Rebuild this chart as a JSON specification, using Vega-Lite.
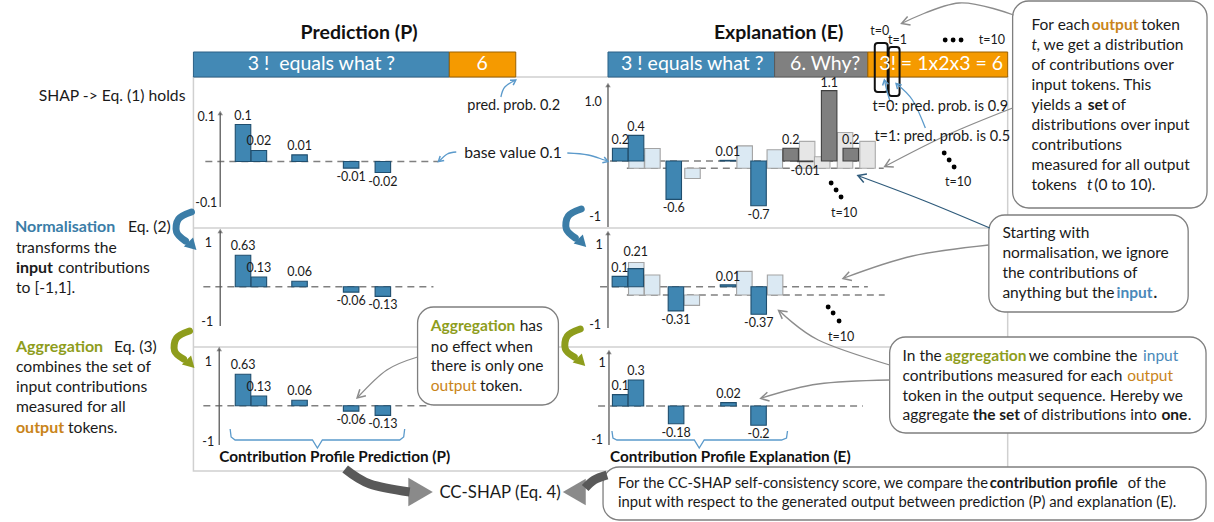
{
"$schema": "https://vega.github.io/schema/vega-lite/v6.json",
"width": 1214, "height": 522, "padding": 0, "autosize": {"type": "none"},
"background": "white",
"config": {"view": {"stroke": null}, "font": "Lato", "locale": {"number": {"decimal": ".", "thousands": ",", "grouping": [3], "currency": ["$", ""], "minus": "-"}}},
"datasets": {
"frame": [{"x":190,"x2":1011,"y":77,"y2":471}],
"seps": [{"x":190,"x2":1011,"y":228},{"x":190,"x2":1011,"y":347}],
"tokens": [
{"x":190,"x2":448,"y":52,"y2":77,"k":"tin"},
{"x":448,"x2":515,"y":52,"y2":77,"k":"tout"},
{"x":608,"x2":776,"y":52,"y2":77,"k":"tin"},
{"x":776,"x2":870,"y":52,"y2":77,"k":"tprm"},
{"x":870,"x2":1011,"y":52,"y2":77,"k":"tout"}],
"dash": [
{"x":202,"x2":437,"y":161.5},{"x":200,"x2":432,"y":286.7},{"x":200,"x2":430,"y":405.7},
{"x":610,"x2":865,"y":161},{"x":627,"x2":886,"y":168.3},
{"x":600,"x2":870,"y":286.7},{"x":627,"x2":887,"y":295},{"x":598,"x2":865,"y":406}],
"axes": [
{"x":217,"y":113,"y2":207},{"x":217,"y":231,"y2":326},{"x":216,"y":349,"y2":445},
{"x":608,"y":85,"y2":227},{"x":608,"y":233,"y2":328},{"x":609,"y":352,"y2":445}],
"braces": [
{"id":"bP","o":0,"x":227,"y":429},{"id":"bP","o":1,"x":228,"y":437},{"id":"bP","o":2,"x":232,"y":440},{"id":"bP","o":3,"x":310,"y":440},{"id":"bP","o":4,"x":315,"y":448},{"id":"bP","o":5,"x":320,"y":440},{"id":"bP","o":6,"x":398,"y":440},{"id":"bP","o":7,"x":402,"y":437},{"id":"bP","o":8,"x":403,"y":429},
{"id":"bE","o":0,"x":612,"y":431},{"id":"bE","o":1,"x":613,"y":438},{"id":"bE","o":2,"x":617,"y":440},{"id":"bE","o":3,"x":695,"y":440},{"id":"bE","o":4,"x":700,"y":448},{"id":"bE","o":5,"x":705,"y":440},{"id":"bE","o":6,"x":783,"y":440},{"id":"bE","o":7,"x":788,"y":438},{"id":"bE","o":8,"x":789,"y":431}],
"bars": [
{"p":"P1","x":240,"v":0.1,"k":"in0"},{"p":"P1","x":256,"v":0.02,"k":"in0"},{"p":"P1","x":297,"v":0.01,"k":"in0"},{"p":"P1","x":349,"v":-0.01,"k":"in0"},{"p":"P1","x":381,"v":-0.02,"k":"in0"},
{"p":"P2","x":240,"v":0.63,"k":"in0"},{"p":"P2","x":256,"v":0.13,"k":"in0"},{"p":"P2","x":297,"v":0.06,"k":"in0"},{"p":"P2","x":349,"v":-0.06,"k":"in0"},{"p":"P2","x":381,"v":-0.13,"k":"in0"},
{"p":"P3","x":240,"v":0.63,"k":"in0"},{"p":"P3","x":256,"v":0.13,"k":"in0"},{"p":"P3","x":297,"v":0.06,"k":"in0"},{"p":"P3","x":349,"v":-0.06,"k":"in0"},{"p":"P3","x":381,"v":-0.13,"k":"in0"},
{"p":"E1a","x":620.3,"v":0.2,"k":"in0"},{"p":"E1a","x":636.3,"v":0.4,"k":"in0"},{"p":"E1a","x":674.3,"v":-0.6,"k":"in0"},{"p":"E1a","x":728.8,"v":0.01,"k":"in0"},{"p":"E1a","x":759.8,"v":-0.7,"k":"in0"},{"p":"E1a","x":792.2,"v":0.2,"k":"ex0"},{"p":"E1a","x":806.8,"v":-0.01,"k":"ex0"},{"p":"E1a","x":831,"v":1.1,"k":"ex0"},{"p":"E1a","x":852.8,"v":0.2,"k":"ex0"},
{"p":"E1b","x":636.8,"v":0.2,"k":"in1"},{"p":"E1b","x":652.8,"v":0.31,"k":"in1"},{"p":"E1b","x":693.2,"v":-0.16,"k":"in1"},{"p":"E1b","x":745.8,"v":0.35,"k":"in1"},{"p":"E1b","x":776.2,"v":0.29,"k":"in1"},{"p":"E1b","x":808.8,"v":0.42,"k":"ex1"},{"p":"E1b","x":824,"v":0.18,"k":"ex1"},{"p":"E1b","x":847,"v":0.56,"k":"ex1"},{"p":"E1b","x":869.7,"v":0.42,"k":"ex1"},
{"p":"E2a","x":620,"v":0.1,"k":"in0"},{"p":"E2a","x":636,"v":0.21,"k":"in0"},{"p":"E2a","x":676.5,"v":-0.31,"k":"in0"},{"p":"E2a","x":729,"v":0.01,"k":"in0"},{"p":"E2a","x":760,"v":-0.37,"k":"in0"},
{"p":"E2b","x":636.5,"v":0.46,"k":"in1"},{"p":"E2b","x":652.5,"v":0.24,"k":"in1"},{"p":"E2b","x":692.5,"v":-0.1,"k":"in1"},{"p":"E2b","x":745.5,"v":0.3,"k":"in1"},{"p":"E2b","x":776.5,"v":0.24,"k":"in1"},
{"p":"E3","x":620.3,"v":0.1,"k":"in0"},{"p":"E3","x":636.2,"v":0.3,"k":"in0"},{"p":"E3","x":676.7,"v":-0.18,"k":"in0"},{"p":"E3","x":729.5,"v":0.02,"k":"in0"},{"p":"E3","x":759.8,"v":-0.2,"k":"in0"}],
"tboxes": [{"x":877,"x2":890,"y":43,"y2":92},{"x":891,"x2":902,"y":47,"y2":96}],
"callouts": [
{"x":1016,"x2":1212,"y":1,"y2":208},{"x":992,"x2":1193,"y":215,"y2":312},{"x":892,"x2":1211,"y":337,"y2":433},{"x":416,"x2":558,"y":307,"y2":405},{"x":603,"x2":1211,"y":467,"y2":520}],
"curves": [
{"id":"a1","o":0,"x":500,"y":97,"c":"sky"},{"id":"a1","o":1,"x":504,"y":87,"c":"sky"},{"id":"a1","o":2,"x":515,"y":80,"c":"sky"},
{"id":"a2","o":0,"x":455,"y":152,"c":"sky"},{"id":"a2","o":1,"x":446,"y":154,"c":"sky"},{"id":"a2","o":2,"x":438,"y":161,"c":"sky"},
{"id":"a3","o":0,"x":567,"y":153,"c":"sky"},{"id":"a3","o":1,"x":588,"y":155,"c":"sky"},{"id":"a3","o":2,"x":607,"y":161,"c":"sky"},
{"id":"a4","o":0,"x":892,"y":100,"c":"sky"},{"id":"a4","o":1,"x":889,"y":90,"c":"sky"},{"id":"a4","o":2,"x":887,"y":81,"c":"sky"},
{"id":"a5","o":0,"x":928,"y":128,"c":"sky"},{"id":"a5","o":1,"x":915,"y":100,"c":"sky"},{"id":"a5","o":2,"x":899,"y":84,"c":"sky"},
{"id":"a6","o":0,"x":1017,"y":15,"c":"gray"},{"id":"a6","o":1,"x":962,"y":3,"c":"gray"},{"id":"a6","o":2,"x":905,"y":23,"c":"gray"},
{"id":"a7","o":0,"x":1016,"y":108,"c":"gray"},{"id":"a7","o":1,"x":950,"y":135,"c":"gray"},{"id":"a7","o":2,"x":888,"y":166,"c":"gray"},
{"id":"a8","o":0,"x":993,"y":228,"c":"navy"},{"id":"a8","o":1,"x":925,"y":200,"c":"navy"},{"id":"a8","o":2,"x":861,"y":176,"c":"navy"},
{"id":"a9","o":0,"x":992,"y":245,"c":"gray"},{"id":"a9","o":1,"x":915,"y":256,"c":"gray"},{"id":"a9","o":2,"x":846,"y":278,"c":"gray"},
{"id":"a10","o":0,"x":892,"y":365,"c":"gray"},{"id":"a10","o":1,"x":820,"y":340,"c":"gray"},{"id":"a10","o":2,"x":781,"y":311,"c":"gray"},
{"id":"a11","o":0,"x":892,"y":380,"c":"gray"},{"id":"a11","o":1,"x":820,"y":384,"c":"gray"},{"id":"a11","o":2,"x":763,"y":398,"c":"gray"},
{"id":"a12","o":0,"x":416,"y":357,"c":"gray"},{"id":"a12","o":1,"x":385,"y":370,"c":"gray"},{"id":"a12","o":2,"x":356,"y":397,"c":"gray"}],
"heads": [
{"id":"a1","o":0,"x":512.4,"y":85.2,"c":"sky"},{"id":"a1","o":1,"x":515,"y":80,"c":"sky"},{"id":"a1","o":2,"x":509.2,"y":80.2,"c":"sky"},
{"id":"a2","o":0,"x":442.8,"y":160.5,"c":"sky"},{"id":"a2","o":1,"x":437,"y":161.5,"c":"sky"},{"id":"a2","o":2,"x":438.8,"y":155.9,"c":"sky"},
{"id":"a3","o":0,"x":602.3,"y":162.7,"c":"sky"},{"id":"a3","o":1,"x":608,"y":161.5,"c":"sky"},{"id":"a3","o":2,"x":604.2,"y":157.1,"c":"sky"},
{"id":"a4","o":0,"x":890.7,"y":84.2,"c":"sky"},{"id":"a4","o":1,"x":886.7,"y":80,"c":"sky"},{"id":"a4","o":2,"x":884.9,"y":85.5,"c":"sky"},
{"id":"a5","o":0,"x":904.1,"y":84.9,"c":"sky"},{"id":"a5","o":1,"x":898.5,"y":83.5,"c":"sky"},{"id":"a5","o":2,"x":899.9,"y":89.1,"c":"sky"},
{"id":"a6","o":0,"x":913.1,"y":25.1,"c":"gray"},{"id":"a6","o":1,"x":904,"y":23.5,"c":"gray"},{"id":"a6","o":2,"x":910.1,"y":16.6,"c":"gray"},
{"id":"a7","o":0,"x":896.2,"y":166.9,"c":"gray"},{"id":"a7","o":1,"x":887,"y":166.5,"c":"gray"},{"id":"a7","o":2,"x":892.2,"y":158.9,"c":"gray"},
{"id":"a8","o":0,"x":865.9,"y":182.5,"c":"navy"},{"id":"a8","o":1,"x":860,"y":175.5,"c":"navy"},{"id":"a8","o":2,"x":869.1,"y":174.1,"c":"navy"},
{"id":"a9","o":0,"x":854,"y":280.4,"c":"gray"},{"id":"a9","o":1,"x":845,"y":278.5,"c":"gray"},{"id":"a9","o":2,"x":851.2,"y":271.8,"c":"gray"},
{"id":"a10","o":0,"x":783.7,"y":318.9,"c":"gray"},{"id":"a10","o":1,"x":780,"y":310.5,"c":"gray"},{"id":"a10","o":2,"x":789.1,"y":311.7,"c":"gray"},
{"id":"a11","o":0,"x":770.9,"y":401,"c":"gray"},{"id":"a11","o":1,"x":762,"y":398.5,"c":"gray"},{"id":"a11","o":2,"x":768.7,"y":392.2,"c":"gray"},
{"id":"a12","o":0,"x":363.9,"y":395.8,"c":"gray"},{"id":"a12","o":1,"x":355,"y":398,"c":"gray"},{"id":"a12","o":2,"x":357.8,"y":389.2,"c":"gray"}],
"thick": [
{"id":"g1","o":0,"x":343,"y":469},{"id":"g1","o":1,"x":368,"y":484},{"id":"g1","o":2,"x":408,"y":492},
{"id":"g2","o":0,"x":607,"y":475},{"id":"g2","o":1,"x":594,"y":480},{"id":"g2","o":2,"x":585,"y":488}],
"bigR": [{"x":419,"y":492}],
"bigL": [{"x":574,"y":492}],
"cres": [
{"id":"c1","o":0,"x":188,"y":212,"c":"norm"},{"id":"c1","o":1,"x":175,"y":219,"c":"norm"},{"id":"c1","o":2,"x":173,"y":232,"c":"norm"},{"id":"c1","o":3,"x":182,"y":241,"c":"norm"},
{"id":"c2","o":0,"x":581,"y":209,"c":"norm"},{"id":"c2","o":1,"x":568,"y":216,"c":"norm"},{"id":"c2","o":2,"x":566,"y":229,"c":"norm"},{"id":"c2","o":3,"x":575,"y":238,"c":"norm"},
{"id":"c3","o":0,"x":186,"y":331,"c":"agg"},{"id":"c3","o":1,"x":173,"y":338,"c":"agg"},{"id":"c3","o":2,"x":171,"y":351,"c":"agg"},{"id":"c3","o":3,"x":180,"y":359,"c":"agg"},
{"id":"c4","o":0,"x":580,"y":329,"c":"agg"},{"id":"c4","o":1,"x":567,"y":336,"c":"agg"},{"id":"c4","o":2,"x":565,"y":349,"c":"agg"},{"id":"c4","o":3,"x":574,"y":357,"c":"agg"}],
"cresHeads": [{"x":189,"y":246,"c":"norm"},{"x":582,"y":243,"c":"norm"},{"x":187,"y":364,"c":"agg"},{"x":581,"y":362,"c":"agg"}],
"dots": [{"x":948,"y":40},{"x":956,"y":40},{"x":964,"y":40},{"x":947,"y":153},{"x":952,"y":160},{"x":957,"y":167},{"x":833,"y":183},{"x":838,"y":190},{"x":843,"y":197},{"x":830,"y":307},{"x":835,"y":313},{"x":841,"y":321}],
"tTitle": [{"x":357,"y":33,"t":"Prediction (P)"},{"x":780,"y":33,"t":"Explanation (E)"}],
"tTok": [{"x":319,"y":64,"t":"3 !\u00a0 equals what ?"},{"x":481,"y":64,"t":"6"},{"x":693,"y":64,"t":"3 ! equals what ?"},{"x":827,"y":64,"t":"6. Why?"},{"x":944,"y":64,"t":"3! = 1x2x3 = 6"}],
"tSmall": [{"x":513,"y":106,"t":"pred. prob. 0.2"},{"x":943,"y":107,"t":"t=0: pred. prob. is 0.9"},{"x":945,"y":137,"t":"t=1: pred. prob. is 0.5"}],
"tTick": [
{"x":882,"y":31,"t":"t=0"},{"x":900,"y":40,"t":"t=1"},{"x":995,"y":40,"t":"t=10"},{"x":961,"y":182,"t":"t=10"},{"x":846,"y":213,"t":"t=10"},{"x":843,"y":337,"t":"t=10"},
{"x":203,"y":117,"t":"0.1"},{"x":203,"y":203,"t":"-0.1"},{"x":205,"y":243,"t":"1"},{"x":204,"y":322,"t":"-1"},{"x":205,"y":362,"t":"1"},{"x":205,"y":442,"t":"-1"},
{"x":593,"y":102,"t":"1.0"},{"x":595,"y":217,"t":"-1"},{"x":599,"y":245,"t":"1"},{"x":595,"y":325,"t":"-1"},{"x":602,"y":363,"t":"1"},{"x":597,"y":440,"t":"-1"}],
"tBody": [
{"x":34,"y":96,"t":"SHAP -> Eq. (1) holds","c":"ink"},{"x":463,"y":153,"t":"base value 0.1","c":"ink"},
{"x":124,"y":227.3,"t":"Eq. (2)","c":"ink"},{"x":11,"y":248.3,"t":"transforms the","c":"ink"},{"x":53.5,"y":268.3,"t":"contributions","c":"ink"},{"x":11,"y":288.3,"t":"to [-1,1].","c":"ink"},
{"x":110,"y":347.3,"t":"Eq. (3)","c":"ink"},{"x":11,"y":367.3,"t":"combines the set of","c":"ink"},{"x":11,"y":387.3,"t":"input contributions","c":"ink"},{"x":11,"y":406.7,"t":"measured for all","c":"ink"},{"x":63.5,"y":428.3,"t":"tokens.","c":"ink"}],
"tBodyB": [{"x":10,"y":227.3,"t":"Normalisation","c":"norm"},{"x":11,"y":268.3,"t":"input","c":"ink"},{"x":11,"y":347.3,"t":"Aggregation","c":"agg"},{"x":11,"y":428.3,"t":"output","c":"output"}],
"tBox": [
{"x":1035,"y":25,"t":"For each","c":"ink"},{"x":1145.7,"y":25,"t":"token","c":"ink"},{"x":1040,"y":45,"t":", we get a distribution","c":"ink"},{"x":1035,"y":64.5,"t":"of contributions over","c":"ink"},{"x":1035,"y":84.5,"t":"input tokens. This","c":"ink"},{"x":1035,"y":104.5,"t":"yields a","c":"ink"},{"x":1116,"y":104.5,"t":"of","c":"ink"},{"x":1035,"y":124.5,"t":"distributions over input","c":"ink"},{"x":1035,"y":144.5,"t":"contributions","c":"ink"},{"x":1035,"y":164.5,"t":"measured for all output","c":"ink"},{"x":1035,"y":184.5,"t":"tokens","c":"ink"},{"x":1098.3,"y":184.5,"t":"(0 to 10).","c":"ink"},
{"x":1005.7,"y":233.3,"t":"Starting with","c":"ink"},{"x":1005.7,"y":253.3,"t":"normalisation, we ignore","c":"ink"},{"x":1005.7,"y":272.7,"t":"the contributions of","c":"ink"},{"x":1005.7,"y":292.7,"t":"anything but the","c":"ink"},
{"x":905,"y":356,"t":"In the","c":"ink"},{"x":1032.3,"y":356,"t":"we combine the","c":"ink"},{"x":1147.5,"y":356,"t":"input","c":"input"},{"x":905,"y":375.7,"t":"contributions measured for each","c":"ink"},{"x":1131.5,"y":375.7,"t":"output","c":"output"},{"x":905,"y":395.7,"t":"token in the output sequence. Hereby we","c":"ink"},{"x":905,"y":415,"t":"aggregate","c":"ink"},{"x":1027,"y":415,"t":"of distributions into","c":"ink"},{"x":1192.5,"y":415,"t":".","c":"ink"},
{"x":519,"y":326,"t":"has","c":"ink"},{"x":429.3,"y":346.7,"t":"no effect when","c":"ink"},{"x":429.3,"y":366,"t":"there is only one","c":"ink"},{"x":429.3,"y":385.7,"t":"output","c":"output"},{"x":479,"y":385.7,"t":"token.","c":"ink"}],
"tBoxB": [
{"x":1095.7,"y":25,"t":"output","c":"output"},{"x":1091.7,"y":104.5,"t":"set","c":"ink"},
{"x":1120.7,"y":292.7,"t":"input","c":"input"},{"x":1158,"y":292.7,"t":".","c":"ink"},
{"x":947.7,"y":356,"t":"aggregation","c":"agg"},{"x":975.7,"y":415,"t":"the set","c":"ink"},{"x":1166,"y":415,"t":"one","c":"ink"},
{"x":429.3,"y":326,"t":"Aggregation","c":"agg"}],
"tBoxI": [{"x":1035,"y":45,"t":"t"},{"x":1091,"y":184.5,"t":"t"}],
"tBoxE": [{"x":618,"y":484,"t":"For the CC-SHAP self-consistency score, we compare the"},{"x":1132,"y":484,"t":"of the"},{"x":618,"y":503.3,"t":"input with respect to the generated output between prediction (P) and explanation (E)."}],
"tBoxEB": [{"x":993,"y":484,"t":"contribution profile"}],
"tCap": [{"x":216,"y":457,"t":"Contribution Profile Prediction (P)"},{"x":610,"y":457,"t":"Contribution Profile Explanation (E)"}],
"tCC": [{"x":438,"y":493,"t":"CC-SHAP (Eq. 4)"}]
},
"resolve": {"scale": {"y": "independent"}},
"layer": [
{"layer": [
 {"data":{"name":"frame"},"mark":{"type":"rect","filled":false,"stroke":"#d0d0d0","strokeWidth":1.5},
  "encoding":{"x":{"field":"x","type":"quantitative","scale":{"domain":[0,1214],"nice":false,"zero":false},"axis":null},"x2":{"field":"x2"},"y":{"field":"y","type":"quantitative","scale":{"domain":[0,522],"nice":false,"zero":false,"reverse":true},"axis":null},"y2":{"field":"y2"}}},
 {"data":{"name":"seps"},"mark":{"type":"rule","stroke":"#d0d0d0","strokeWidth":1.5},
  "encoding":{"x":{"field":"x","type":"quantitative","scale":{"domain":[0,1214],"nice":false,"zero":false},"axis":null},"x2":{"field":"x2"},"y":{"field":"y","type":"quantitative","scale":{"domain":[0,522],"nice":false,"zero":false,"reverse":true},"axis":null}}},
 {"data":{"name":"tokens"},"mark":{"type":"rect","strokeWidth":1},
  "encoding":{"x":{"field":"x","type":"quantitative","scale":{"domain":[0,1214],"nice":false,"zero":false},"axis":null},"x2":{"field":"x2"},"y":{"field":"y","type":"quantitative","scale":{"domain":[0,522],"nice":false,"zero":false,"reverse":true},"axis":null},"y2":{"field":"y2"},
   "fill":{"field":"k","type":"nominal","legend":null,"scale":{"domain":["in0","in1","ex0","ex1","tin","tout","tprm"],"range":["#3f86b2","#dbe9f3","#7f7f7f","#e6e6e6","#4389b5","#f59a00","#808080"]}},
   "stroke":{"field":"k","type":"nominal","legend":null,"scale":{"domain":["in0","in1","ex0","ex1","tin","tout","tprm"],"range":["#1f4e6e","#a3a3a3","#404040","#ababab","#2c6186","#9a6000","#595959"]}}}},
 {"data":{"name":"dash"},"mark":{"type":"rule","stroke":"#808080","strokeWidth":1.6,"strokeDash":[7,5]},
  "encoding":{"x":{"field":"x","type":"quantitative","scale":{"domain":[0,1214],"nice":false,"zero":false},"axis":null},"x2":{"field":"x2"},"y":{"field":"y","type":"quantitative","scale":{"domain":[0,522],"nice":false,"zero":false,"reverse":true},"axis":null}}},
 {"data":{"name":"axes"},"mark":{"type":"rule","stroke":"#595959","strokeWidth":1.3},
  "encoding":{"x":{"field":"x","type":"quantitative","scale":{"domain":[0,1214],"nice":false,"zero":false},"axis":null},"y":{"field":"y","type":"quantitative","scale":{"domain":[0,522],"nice":false,"zero":false,"reverse":true},"axis":null},"y2":{"field":"y2"}}},
 {"data":{"name":"axes"},"mark":{"type":"point","shape":"triangle-up","size":30,"filled":true,"color":"#595959","strokeWidth":0},
  "encoding":{"x":{"field":"x","type":"quantitative","scale":{"domain":[0,1214],"nice":false,"zero":false},"axis":null},"y":{"field":"y","type":"quantitative","scale":{"domain":[0,522],"nice":false,"zero":false,"reverse":true},"axis":null}}},
 {"data":{"name":"braces"},"mark":{"type":"line","stroke":"#5b9acb","strokeWidth":1.3},
  "encoding":{"x":{"field":"x","type":"quantitative","scale":{"domain":[0,1214],"nice":false,"zero":false},"axis":null},"y":{"field":"y","type":"quantitative","scale":{"domain":[0,522],"nice":false,"zero":false,"reverse":true},"axis":null},"detail":{"field":"id"},"order":{"field":"o"}}}
]},
{"data":{"name":"bars"},"transform":[{"filter":"datum.p == 'E1b'"}],
 "encoding":{"x":{"field":"x","type":"quantitative","scale":{"domain":[0,1214],"nice":false,"zero":false},"axis":null},"y":{"field":"v","type":"quantitative","axis":null,"scale":{"type":"linear","domain":[-1,1],"range":[232.3,104.3],"nice":false,"zero":false}}},
 "layer":[{"mark":{"type":"bar","width":15.5,"strokeWidth":1.1},"encoding":{"y2":{"datum":0},
   "fill":{"field":"k","type":"nominal","legend":null,"scale":{"domain":["in0","in1","ex0","ex1","tin","tout","tprm"],"range":["#3f86b2","#dbe9f3","#7f7f7f","#e6e6e6","#4389b5","#f59a00","#808080"]}},
   "stroke":{"field":"k","type":"nominal","legend":null,"scale":{"domain":["in0","in1","ex0","ex1","tin","tout","tprm"],"range":["#1f4e6e","#a3a3a3","#404040","#ababab","#2c6186","#9a6000","#595959"]}}}}]},
{"data":{"name":"bars"},"transform":[{"filter":"datum.p == 'E1a'"}],
 "encoding":{"x":{"field":"x","type":"quantitative","scale":{"domain":[0,1214],"nice":false,"zero":false},"axis":null},"y":{"field":"v","type":"quantitative","axis":null,"scale":{"type":"linear","domain":[-1,1],"range":[225,97],"nice":false,"zero":false}}},
 "layer":[{"mark":{"type":"bar","width":15.5,"strokeWidth":1.1},"encoding":{"y2":{"datum":0},
   "fill":{"field":"k","type":"nominal","legend":null,"scale":{"domain":["in0","in1","ex0","ex1","tin","tout","tprm"],"range":["#3f86b2","#dbe9f3","#7f7f7f","#e6e6e6","#4389b5","#f59a00","#808080"]}},
   "stroke":{"field":"k","type":"nominal","legend":null,"scale":{"domain":["in0","in1","ex0","ex1","tin","tout","tprm"],"range":["#1f4e6e","#a3a3a3","#404040","#ababab","#2c6186","#9a6000","#595959"]}}}},
  {"transform":[{"filter":"datum.v > 0"}],"mark":{"type":"text","baseline":"bottom","dy":-1,"fontSize":12.5,"color":"#1a1a1a"},"encoding":{"text":{"field":"v","type":"quantitative","format":".2~f"}}},
  {"transform":[{"filter":"datum.v < 0"}],"mark":{"type":"text","baseline":"top","dy":3,"fontSize":12.5,"color":"#1a1a1a"},"encoding":{"text":{"field":"v","type":"quantitative","format":".2~f"}}}]},
{"data":{"name":"bars"},"transform":[{"filter":"datum.p == 'E2b'"}],
 "encoding":{"x":{"field":"x","type":"quantitative","scale":{"domain":[0,1214],"nice":false,"zero":false},"axis":null},"y":{"field":"v","type":"quantitative","axis":null,"scale":{"type":"pow","exponent":0.75,"domain":[-1,1],"range":[353.2,236.8],"nice":false,"zero":false}}},
 "layer":[{"mark":{"type":"bar","width":15.5,"strokeWidth":1.1},"encoding":{"y2":{"datum":0},
   "fill":{"field":"k","type":"nominal","legend":null,"scale":{"domain":["in0","in1","ex0","ex1","tin","tout","tprm"],"range":["#3f86b2","#dbe9f3","#7f7f7f","#e6e6e6","#4389b5","#f59a00","#808080"]}},
   "stroke":{"field":"k","type":"nominal","legend":null,"scale":{"domain":["in0","in1","ex0","ex1","tin","tout","tprm"],"range":["#1f4e6e","#a3a3a3","#404040","#ababab","#2c6186","#9a6000","#595959"]}}}}]},
{"data":{"name":"bars"},"transform":[{"filter":"datum.p == 'E2a'"}],
 "encoding":{"x":{"field":"x","type":"quantitative","scale":{"domain":[0,1214],"nice":false,"zero":false},"axis":null},"y":{"field":"v","type":"quantitative","axis":null,"scale":{"type":"pow","exponent":0.75,"domain":[-1,1],"range":[344.9,228.5],"nice":false,"zero":false}}},
 "layer":[{"mark":{"type":"bar","width":15.5,"strokeWidth":1.1},"encoding":{"y2":{"datum":0},
   "fill":{"field":"k","type":"nominal","legend":null,"scale":{"domain":["in0","in1","ex0","ex1","tin","tout","tprm"],"range":["#3f86b2","#dbe9f3","#7f7f7f","#e6e6e6","#4389b5","#f59a00","#808080"]}},
   "stroke":{"field":"k","type":"nominal","legend":null,"scale":{"domain":["in0","in1","ex0","ex1","tin","tout","tprm"],"range":["#1f4e6e","#a3a3a3","#404040","#ababab","#2c6186","#9a6000","#595959"]}}}},
  {"transform":[{"filter":"datum.v > 0 && datum.v != 0.21"}],"mark":{"type":"text","baseline":"bottom","dy":-1,"fontSize":12.5,"color":"#1a1a1a"},"encoding":{"text":{"field":"v","type":"quantitative","format":".2~f"}}},
  {"transform":[{"filter":"datum.v == 0.21"}],"mark":{"type":"text","baseline":"bottom","dy":-10,"fontSize":12.5,"color":"#1a1a1a"},"encoding":{"text":{"field":"v","type":"quantitative","format":".2~f"}}},
  {"transform":[{"filter":"datum.v < 0"}],"mark":{"type":"text","baseline":"top","dy":3,"fontSize":12.5,"color":"#1a1a1a"},"encoding":{"text":{"field":"v","type":"quantitative","format":".2~f"}}}]},
{"data":{"name":"bars"},"transform":[{"filter":"datum.p == 'E3'"}],
 "encoding":{"x":{"field":"x","type":"quantitative","scale":{"domain":[0,1214],"nice":false,"zero":false},"axis":null},"y":{"field":"v","type":"quantitative","axis":null,"scale":{"type":"pow","exponent":0.75,"domain":[-1,1],"range":[470.2,341.8],"nice":false,"zero":false}}},
 "layer":[{"mark":{"type":"bar","width":15.5,"strokeWidth":1.1},"encoding":{"y2":{"datum":0},
   "fill":{"field":"k","type":"nominal","legend":null,"scale":{"domain":["in0","in1","ex0","ex1","tin","tout","tprm"],"range":["#3f86b2","#dbe9f3","#7f7f7f","#e6e6e6","#4389b5","#f59a00","#808080"]}},
   "stroke":{"field":"k","type":"nominal","legend":null,"scale":{"domain":["in0","in1","ex0","ex1","tin","tout","tprm"],"range":["#1f4e6e","#a3a3a3","#404040","#ababab","#2c6186","#9a6000","#595959"]}}}},
  {"transform":[{"filter":"datum.v > 0"}],"mark":{"type":"text","baseline":"bottom","dy":-2,"fontSize":12.5,"color":"#1a1a1a"},"encoding":{"text":{"field":"v","type":"quantitative","format":".2~f"}}},
  {"transform":[{"filter":"datum.v < 0"}],"mark":{"type":"text","baseline":"top","dy":3,"fontSize":12.5,"color":"#1a1a1a"},"encoding":{"text":{"field":"v","type":"quantitative","format":".2~f"}}}]},
{"data":{"name":"bars"},"transform":[{"filter":"datum.p == 'P1'"}],
 "encoding":{"x":{"field":"x","type":"quantitative","scale":{"domain":[0,1214],"nice":false,"zero":false},"axis":null},"y":{"field":"v","type":"quantitative","axis":null,"scale":{"type":"pow","exponent":0.75,"domain":[-1,1],"range":[369.5,-46.5],"nice":false,"zero":false}}},
 "layer":[{"mark":{"type":"bar","width":15.5,"strokeWidth":1.1},"encoding":{"y2":{"datum":0},
   "fill":{"field":"k","type":"nominal","legend":null,"scale":{"domain":["in0","in1","ex0","ex1","tin","tout","tprm"],"range":["#3f86b2","#dbe9f3","#7f7f7f","#e6e6e6","#4389b5","#f59a00","#808080"]}},
   "stroke":{"field":"k","type":"nominal","legend":null,"scale":{"domain":["in0","in1","ex0","ex1","tin","tout","tprm"],"range":["#1f4e6e","#a3a3a3","#404040","#ababab","#2c6186","#9a6000","#595959"]}}}},
  {"transform":[{"filter":"datum.v > 0"}],"mark":{"type":"text","baseline":"bottom","dy":-2,"fontSize":12.5,"color":"#1a1a1a"},"encoding":{"text":{"field":"v","type":"quantitative","format":".2~f"}}},
  {"transform":[{"filter":"datum.v < 0"}],"mark":{"type":"text","baseline":"top","dy":3,"fontSize":12.5,"color":"#1a1a1a"},"encoding":{"text":{"field":"v","type":"quantitative","format":".2~f"}}}]},
{"data":{"name":"bars"},"transform":[{"filter":"datum.p == 'P2'"}],
 "encoding":{"x":{"field":"x","type":"quantitative","scale":{"domain":[0,1214],"nice":false,"zero":false},"axis":null},"y":{"field":"v","type":"quantitative","axis":null,"scale":{"type":"pow","exponent":0.75,"domain":[-1,1],"range":[331.2,242.2],"nice":false,"zero":false}}},
 "layer":[{"mark":{"type":"bar","width":15.5,"strokeWidth":1.1},"encoding":{"y2":{"datum":0},
   "fill":{"field":"k","type":"nominal","legend":null,"scale":{"domain":["in0","in1","ex0","ex1","tin","tout","tprm"],"range":["#3f86b2","#dbe9f3","#7f7f7f","#e6e6e6","#4389b5","#f59a00","#808080"]}},
   "stroke":{"field":"k","type":"nominal","legend":null,"scale":{"domain":["in0","in1","ex0","ex1","tin","tout","tprm"],"range":["#1f4e6e","#a3a3a3","#404040","#ababab","#2c6186","#9a6000","#595959"]}}}},
  {"transform":[{"filter":"datum.v > 0"}],"mark":{"type":"text","baseline":"bottom","dy":-2,"fontSize":12.5,"color":"#1a1a1a"},"encoding":{"text":{"field":"v","type":"quantitative","format":".2~f"}}},
  {"transform":[{"filter":"datum.v < 0"}],"mark":{"type":"text","baseline":"top","dy":3,"fontSize":12.5,"color":"#1a1a1a"},"encoding":{"text":{"field":"v","type":"quantitative","format":".2~f"}}}]},
{"data":{"name":"bars"},"transform":[{"filter":"datum.p == 'P3'"}],
 "encoding":{"x":{"field":"x","type":"quantitative","scale":{"domain":[0,1214],"nice":false,"zero":false},"axis":null},"y":{"field":"v","type":"quantitative","axis":null,"scale":{"type":"pow","exponent":0.75,"domain":[-1,1],"range":[450.2,361.2],"nice":false,"zero":false}}},
 "layer":[{"mark":{"type":"bar","width":15.5,"strokeWidth":1.1},"encoding":{"y2":{"datum":0},
   "fill":{"field":"k","type":"nominal","legend":null,"scale":{"domain":["in0","in1","ex0","ex1","tin","tout","tprm"],"range":["#3f86b2","#dbe9f3","#7f7f7f","#e6e6e6","#4389b5","#f59a00","#808080"]}},
   "stroke":{"field":"k","type":"nominal","legend":null,"scale":{"domain":["in0","in1","ex0","ex1","tin","tout","tprm"],"range":["#1f4e6e","#a3a3a3","#404040","#ababab","#2c6186","#9a6000","#595959"]}}}},
  {"transform":[{"filter":"datum.v > 0"}],"mark":{"type":"text","baseline":"bottom","dy":-2,"fontSize":12.5,"color":"#1a1a1a"},"encoding":{"text":{"field":"v","type":"quantitative","format":".2~f"}}},
  {"transform":[{"filter":"datum.v < 0"}],"mark":{"type":"text","baseline":"top","dy":3,"fontSize":12.5,"color":"#1a1a1a"},"encoding":{"text":{"field":"v","type":"quantitative","format":".2~f"}}}]},
{"encoding":{"x":{"field":"x","type":"quantitative","scale":{"domain":[0,1214],"nice":false,"zero":false},"axis":null},"y":{"field":"y","type":"quantitative","scale":{"domain":[0,522],"nice":false,"zero":false,"reverse":true},"axis":null}},
 "layer": [
 {"data":{"name":"tboxes"},"mark":{"type":"rect","filled":false,"stroke":"#111111","strokeWidth":2,"cornerRadius":3},"encoding":{"x2":{"field":"x2"},"y2":{"field":"y2"}}},
 {"data":{"name":"callouts"},"mark":{"type":"rect","fill":"white","stroke":"#7f7f7f","strokeWidth":1.3,"cornerRadius":16},"encoding":{"x2":{"field":"x2"},"y2":{"field":"y2"}}},
 {"data":{"name":"curves"},"mark":{"type":"line","interpolate":"cardinal","strokeWidth":1.3},"encoding":{"detail":{"field":"id"},"order":{"field":"o"},
   "color":{"field":"c","type":"nominal","legend":null,"scale":{"domain":["ink","white","input","norm","agg","output","gray","navy","sky","dark"],"range":["#1a1a1a","#ffffff","#4a89b9","#3b7da7","#8e9d1c","#c98419","#8c8c8c","#2f5b7b","#5b9acb","#595959"]}}}},
 {"data":{"name":"heads"},"mark":{"type":"line","strokeWidth":1.5},"encoding":{"detail":{"field":"id"},"order":{"field":"o"},
   "color":{"field":"c","type":"nominal","legend":null,"scale":{"domain":["ink","white","input","norm","agg","output","gray","navy","sky","dark"],"range":["#1a1a1a","#ffffff","#4a89b9","#3b7da7","#8e9d1c","#c98419","#8c8c8c","#2f5b7b","#5b9acb","#595959"]}}}},
 {"data":{"name":"thick"},"mark":{"type":"line","interpolate":"cardinal","strokeWidth":9,"stroke":"#595959","strokeCap":"butt"},"encoding":{"detail":{"field":"id"},"order":{"field":"o"}}},
 {"data":{"name":"bigR"},"mark":{"type":"point","shape":"triangle-right","size":800,"filled":true,"color":"#595959","strokeWidth":0}},
 {"data":{"name":"bigL"},"mark":{"type":"point","shape":"triangle-left","size":700,"filled":true,"color":"#595959","strokeWidth":0}},
 {"data":{"name":"cres"},"mark":{"type":"line","interpolate":"cardinal","strokeWidth":7,"strokeCap":"round"},"encoding":{"detail":{"field":"id"},"order":{"field":"o"},
   "color":{"field":"c","type":"nominal","legend":null,"scale":{"domain":["ink","white","input","norm","agg","output","gray","navy","sky","dark"],"range":["#1a1a1a","#ffffff","#4a89b9","#3b7da7","#8e9d1c","#c98419","#8c8c8c","#2f5b7b","#5b9acb","#595959"]}}}},
 {"data":{"name":"cresHeads"},"mark":{"type":"point","shape":"triangle-right","size":170,"angle":45,"filled":true,"opacity":1,"strokeWidth":0},"encoding":{
   "color":{"field":"c","type":"nominal","legend":null,"scale":{"domain":["ink","white","input","norm","agg","output","gray","navy","sky","dark"],"range":["#1a1a1a","#ffffff","#4a89b9","#3b7da7","#8e9d1c","#c98419","#8c8c8c","#2f5b7b","#5b9acb","#595959"]}}}},
 {"data":{"name":"dots"},"mark":{"type":"point","shape":"circle","size":24,"filled":true,"color":"#000000","opacity":1,"strokeWidth":0}},
 {"data":{"name":"tTitle"},"mark":{"type":"text","align":"center","baseline":"middle","fontSize":19.5,"fontWeight":"bold","color":"#111111"},"encoding":{"text":{"field":"t"}}},
 {"data":{"name":"tTok"},"mark":{"type":"text","align":"center","baseline":"middle","fontSize":19.5,"color":"#ffffff"},"encoding":{"text":{"field":"t"}}},
 {"data":{"name":"tSmall"},"mark":{"type":"text","align":"center","baseline":"middle","fontSize":14.5,"color":"#1a1a1a"},"encoding":{"text":{"field":"t"}}},
 {"data":{"name":"tTick"},"mark":{"type":"text","align":"center","baseline":"middle","fontSize":12.5,"color":"#1a1a1a"},"encoding":{"text":{"field":"t"}}},
 {"data":{"name":"tBody"},"mark":{"type":"text","align":"left","baseline":"middle","fontSize":15.7},"encoding":{"text":{"field":"t"},
   "color":{"field":"c","type":"nominal","legend":null,"scale":{"domain":["ink","white","input","norm","agg","output","gray","navy","sky","dark"],"range":["#1a1a1a","#ffffff","#4a89b9","#3b7da7","#8e9d1c","#c98419","#8c8c8c","#2f5b7b","#5b9acb","#595959"]}}}},
 {"data":{"name":"tBodyB"},"mark":{"type":"text","align":"left","baseline":"middle","fontSize":16,"fontWeight":"bold"},"encoding":{"text":{"field":"t"},
   "color":{"field":"c","type":"nominal","legend":null,"scale":{"domain":["ink","white","input","norm","agg","output","gray","navy","sky","dark"],"range":["#1a1a1a","#ffffff","#4a89b9","#3b7da7","#8e9d1c","#c98419","#8c8c8c","#2f5b7b","#5b9acb","#595959"]}}}},
 {"data":{"name":"tBox"},"mark":{"type":"text","align":"left","baseline":"middle","fontSize":15.5},"encoding":{"text":{"field":"t"},
   "color":{"field":"c","type":"nominal","legend":null,"scale":{"domain":["ink","white","input","norm","agg","output","gray","navy","sky","dark"],"range":["#1a1a1a","#ffffff","#4a89b9","#3b7da7","#8e9d1c","#c98419","#8c8c8c","#2f5b7b","#5b9acb","#595959"]}}}},
 {"data":{"name":"tBoxB"},"mark":{"type":"text","align":"left","baseline":"middle","fontSize":15.5,"fontWeight":"bold"},"encoding":{"text":{"field":"t"},
   "color":{"field":"c","type":"nominal","legend":null,"scale":{"domain":["ink","white","input","norm","agg","output","gray","navy","sky","dark"],"range":["#1a1a1a","#ffffff","#4a89b9","#3b7da7","#8e9d1c","#c98419","#8c8c8c","#2f5b7b","#5b9acb","#595959"]}}}},
 {"data":{"name":"tBoxI"},"mark":{"type":"text","align":"left","baseline":"middle","fontSize":15.5,"fontStyle":"italic","color":"#1a1a1a"},"encoding":{"text":{"field":"t"}}},
 {"data":{"name":"tBoxE"},"mark":{"type":"text","align":"left","baseline":"middle","fontSize":14.8,"color":"#1a1a1a"},"encoding":{"text":{"field":"t"}}},
 {"data":{"name":"tBoxEB"},"mark":{"type":"text","align":"left","baseline":"middle","fontSize":14.8,"fontWeight":"bold","color":"#1a1a1a"},"encoding":{"text":{"field":"t"}}},
 {"data":{"name":"tCap"},"mark":{"type":"text","align":"left","baseline":"middle","fontSize":15.3,"fontWeight":"bold","color":"#111111"},"encoding":{"text":{"field":"t"}}},
 {"data":{"name":"tCC"},"mark":{"type":"text","align":"left","baseline":"middle","fontSize":16.8,"color":"#1a1a1a"},"encoding":{"text":{"field":"t"}}}
 ]}
]
}
